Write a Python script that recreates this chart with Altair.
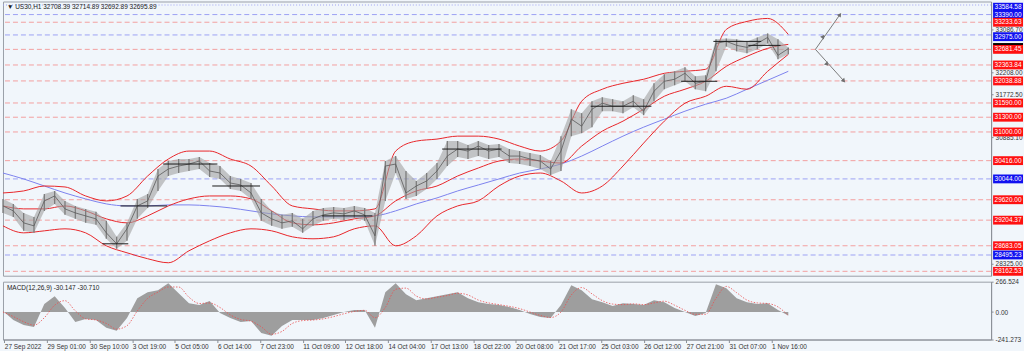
import altair as alt
import pandas as pd

# ---------------- data ----------------
bar_idx = list(range(0, 616, 8))  # H1 bar index, sampled every 8 bars

close = [29494, 29393, 29149, 29088, 29596, 29697, 29434, 29352, 29291, 29231,
         28946, 28723, 29028, 29494, 29596, 30103, 30246, 30306, 30347, 30408,
         30205, 30164, 29961, 29921, 29758, 29352, 29231, 29149, 29190, 29028,
         29231, 29312, 29352, 29332, 29393, 29312, 28885, 30306, 30347, 29758,
         29900, 30002, 30205, 30509, 30652, 30611, 30712, 30611, 30652, 30509,
         30509, 30449, 30408, 30246, 30611, 31261, 31118, 31464, 31585, 31524,
         31524, 31626, 31423, 31829, 32032, 32073, 32194, 31991, 32032, 32803,
         32844, 32763, 32722, 32803, 32925, 32560, 32696]
high = [29637, 29535, 29352, 29271, 29738, 29799, 29596, 29494, 29434, 29373,
        29190, 28865, 29149, 29637, 29738, 30246, 30408, 30449, 30449, 30489,
        30367, 30306, 30103, 30043, 29961, 29637, 29393, 29312, 29352, 29231,
        29393, 29454, 29474, 29454, 29494, 29454, 29352, 30408, 30509, 30205,
        30002, 30164, 30367, 30814, 30814, 30733, 30814, 30733, 30753, 30652,
        30611, 30570, 30530, 30408, 30915, 31464, 31382, 31626, 31707, 31667,
        31626, 31748, 31667, 31991, 32174, 32235, 32316, 32133, 32154, 32885,
        32905, 32885, 32844, 32925, 33006, 32885, 32722]
low = [29352, 29271, 28987, 28946, 29393, 29535, 29312, 29231, 29149, 29109,
       28825, 28622, 28784, 29231, 29454, 29799, 30103, 30164, 30205, 30246,
       30083, 30043, 29840, 29799, 29637, 29190, 29088, 29028, 29068, 28946,
       29088, 29190, 29231, 29210, 29251, 29190, 28682, 29596, 30164, 29637,
       29697, 29840, 30043, 30306, 30489, 30449, 30509, 30449, 30489, 30367,
       30347, 30306, 30246, 30124, 30205, 30915, 30976, 31098, 31423, 31423,
       31382, 31504, 31342, 31626, 31870, 31951, 32032, 31870, 31829, 32235,
       32742, 32641, 32600, 32682, 32803, 32479, 32580]

band_idx = list(range(0, 609, 16))
bb_upper = [29758, 29799, 29900, 29880, 29697, 29596, 29697, 30103, 30449, 30611,
            30611, 30449, 30306, 29900, 29494, 29434, 29393, 29393, 29434, 30611,
            30814, 30855, 30915, 30915, 30855, 30712, 30611, 30814, 31626, 31870,
            31991, 32073, 32194, 32235, 32276, 33088, 33250, 33311, 32986]
bb_middle = [29494, 29434, 29434, 29494, 29393, 29231, 29149, 29291, 29494, 29637,
             29697, 29697, 29637, 29393, 29149, 29109, 29149, 29231, 29291, 29596,
             29799, 29900, 30103, 30266, 30408, 30449, 30408, 30367, 30712, 31017,
             31220, 31464, 31727, 31870, 32032, 32336, 32539, 32702, 32783]
bb_lower = [29088, 28946, 28987, 29028, 28946, 28682, 28540, 28419, 28337, 28581,
            28784, 28946, 29028, 28987, 28865, 28825, 28865, 29028, 29088, 28682,
            28885, 29291, 29494, 29596, 29900, 30103, 30164, 30002, 29758, 29900,
            30306, 30773, 31220, 31585, 31727, 31930, 31870, 32235, 32580]
ma_blue = [30164, 30043, 29900, 29758, 29637, 29535, 29494, 29494, 29515, 29515,
           29494, 29454, 29393, 29332, 29291, 29271, 29271, 29271, 29291, 29393,
           29535, 29657, 29799, 29921, 30043, 30164, 30246, 30347, 30509, 30712,
           30915, 31098, 31261, 31423, 31565, 31687, 31870, 32052, 32235]

macd_hist = [9, -70, -113, -131, 70, 139, 35, -87, -61, -70,
             -139, -165, -52, 122, 174, 191, 252, 165, 78, 61,
             96, -9, -52, -87, -78, -183, -209, -122, -70, -70,
             -70, -52, -26, 0, 17, 17, -139, 174, 252, 157,
             104, 122, 139, 157, 174, 122, 87, 70, 61, 44,
             17, -17, -44, -52, 61, 235, 191, 113, 87, 52,
             78, 70, 61, 104, 87, 35, 0, -35, -9, 244,
             209, 122, 87, 70, 78, 17, -30]
macd_signal = [0, -40, -85, -115, -50, 60, 100, 10, -60, -70,
               -100, -150, -120, 10, 120, 175, 220, 220, 130, 75,
               80, 40, -25, -65, -80, -130, -195, -170, -100, -75,
               -70, -60, -40, -15, 5, 15, -50, 40, 200, 210,
               140, 115, 130, 145, 165, 150, 105, 80, 65, 50,
               30, 0, -30, -48, 0, 150, 215, 160, 100, 70,
               65, 72, 65, 80, 95, 60, 15, -20, -20, 120,
               225, 170, 105, 80, 75, 45, -31]

level_price = [33584.58, 33390.00, 33233.63, 32975.00, 32681.45, 32363.84, 32038.88,
               31590.00, 31300.00, 31000.00, 30416.00, 30044.00, 29620.00, 29204.37,
               28683.05, 28495.23, 28162.53]
level_kind = ["blue", "blue", "red", "blue", "red", "red", "red",
              "red", "red", "red", "red", "blue", "red", "red",
              "red", "blue", "red"]
# where each right-hand price tag sits (nudged like the terminal does to avoid clashes)
label_at = [33540.00, 33390.00, 33233.63, 32940.00, 32681.45, 32363.84, 32038.88,
            31590.00, 31300.00, 31000.00, 30416.00, 30044.00, 29620.00, 29204.37,
            28683.05, 28495.23, 28162.53]

seg_x1 = [77, 91, 124, 162, 247, 340, 455, 525, 550, 577]
seg_x2 = [97, 127, 166, 199, 286, 386, 502, 553, 587, 602]
seg_p = [28723, 29494, 30347, 29900, 29291, 30652, 31524, 32032, 32844, 32763]

proj_leg = ["up", "up", "down", "down"]
proj_bar = [629, 648, 629, 651]
proj_price = [32681.45, 33390.00, 32681.45, 32038.88]
arrow_bar = [648, 651, 635, 638]
arrow_price = [33390.00, 32038.88, 32945, 32377]
arrow_angle = [35, 138, 35, 138]

price_ticks = [33086.70, 32208.00, 31772.50, 30885.10, 28325.00]
time_labels = ["27 Sep 2022", "29 Sep 01:00", "30 Sep 10:00", "3 Oct 19:00", "5 Oct 05:00",
               "6 Oct 14:00", "7 Oct 23:00", "11 Oct 09:00", "12 Oct 18:00", "14 Oct 04:00",
               "17 Oct 13:00", "18 Oct 22:00", "20 Oct 08:00", "21 Oct 17:00", "25 Oct 03:00",
               "26 Oct 12:00", "27 Oct 21:00", "31 Oct 07:00", "1 Nov 16:00"]
time_pos = [1 + 33 * i for i in range(len(time_labels))]
macd_ticks = [266.524, 0.0, -241.273]
macd_tick_labels = ["266.524", "0.00", "-241.273"]

header = "\u25bc US30,H1  32708.39 32714.89 32692.89 32695.89"
macd_title = "MACD(12,26,9) -30.147 -30.710"

# ---------------- frames ----------------
price_df = pd.DataFrame({"bar": bar_idx, "close": close, "high": high, "low": low})
band_df = pd.DataFrame({"bar": band_idx, "upper": bb_upper, "middle": bb_middle,
                        "lower": bb_lower, "ma": ma_blue})
macd_df = pd.DataFrame({"bar": bar_idx, "hist": macd_hist, "signal": macd_signal})

COL = {"red": "#f3a0a0", "blue": "#9da2f4"}
BOX = {"red": "#ff1010", "blue": "#1010f0"}
lvl_df = pd.DataFrame({
    "price": level_price,
    "label_at": label_at,
    "lc": [COL[k] for k in level_kind],
    "bc": [BOX[k] for k in level_kind],
    "label": [f"{p:.2f}" for p in level_price],
    "dash": ["dot" if i == 0 else "dash" for i in range(len(level_price))],
})
cur_df = pd.DataFrame({"label_at": [32720.0], "bc": ["#000000"], "label": [""]})
box_df = pd.concat([cur_df, lvl_df[["label_at", "bc", "label"]]], ignore_index=True)

seg_df = pd.DataFrame({"x1": seg_x1, "x2": seg_x2, "p": seg_p})
proj_df = pd.DataFrame({"leg": proj_leg, "bar": proj_bar, "price": proj_price})
arrow_df = pd.DataFrame({"bar": arrow_bar, "price": arrow_price, "ang": arrow_angle})

# ---------------- scales / axes ----------------
W = 991
FONT = "Liberation Sans"
xs = alt.Scale(domain=[0, 765], nice=False, zero=False)
ys = alt.Scale(domain=[28073.35, 33655.85], nice=False, zero=False)
ms = alt.Scale(domain=[-241.273, 266.524], nice=False, zero=False)

yaxis = alt.Axis(orient="right", values=price_ticks, title=None, grid=False,
                 labelExpr="format(datum.value, '.2f')", labelFontSize=6.5,
                 labelColor="#333333", labelFont=FONT, tickSize=2, labelPadding=2,
                 domainColor="#8a8f96", tickColor="#8a8f96")
maxis = alt.Axis(orient="right", values=macd_ticks, title=None, grid=False,
                 labelExpr="datum.value > 1 ? '%s' : (datum.value < -1 ? '%s' : '%s')"
                 % (macd_tick_labels[0], macd_tick_labels[2], macd_tick_labels[1]),
                 labelFontSize=6.5, labelColor="#333333", labelFont=FONT, tickSize=2,
                 labelPadding=2, domainColor="#8a8f96", tickColor="#8a8f96")
lab_js = "[" + ",".join("'%s'" % s for s in time_labels) + "]"
xaxis = alt.Axis(orient="bottom", values=time_pos, title=None, grid=False,
                 labelExpr=lab_js + "[round((datum.value - 1) / 33)]",
                 labelAlign="left", labelFontSize=6.5, labelColor="#333333",
                 labelFont=FONT, tickSize=3, labelPadding=1, labelOverlap=False,
                 labelBound=False, labelFlush=False, domainColor="#8a8f96",
                 tickColor="#8a8f96")

X = lambda f: alt.X(f, type="quantitative", scale=xs, axis=None)
Y = lambda f: alt.Y(f, type="quantitative", scale=ys, axis=yaxis)

# ---------------- top (price) panel ----------------
levels_dash = alt.Chart(lvl_df).transform_filter("datum.dash == 'dash'").mark_rule(
    strokeDash=[5, 3], strokeWidth=1).encode(
    y=Y("price"), color=alt.Color("lc:N", scale=None))
levels_dot = alt.Chart(lvl_df).transform_filter("datum.dash == 'dot'").mark_rule(
    strokeDash=[1, 2], strokeWidth=1).encode(
    y=Y("price"), color=alt.Color("lc:N", scale=None))

ma_line = alt.Chart(band_df).mark_line(color="#7d83ee", strokeWidth=1,
                                       interpolate="monotone").encode(x=X("bar"), y=Y("ma"))
band_lines = [
    alt.Chart(band_df).mark_line(color="#e8262a", strokeWidth=1,
                                 interpolate="monotone").encode(x=X("bar"), y=Y(f))
    for f in ["upper", "middle", "lower"]
]
price_area = alt.Chart(price_df).mark_area(color="#a2a2a2", opacity=0.6).encode(
    x=X("bar"), y=Y("low"), y2="high")
price_bars = alt.Chart(price_df).mark_rule(color="#7c7c7c", strokeWidth=1.3).encode(
    x=X("bar"), y=Y("low"), y2="high")
price_line = alt.Chart(price_df).mark_line(color="#5a5a5a", strokeWidth=0.8).encode(
    x=X("bar"), y=Y("close"))
segs = alt.Chart(seg_df).mark_rule(color="#1a1a1a", strokeWidth=1).encode(
    x=X("x1"), x2="x2", y=Y("p"))
proj = alt.Chart(proj_df).mark_line(color="#7a7a7a", strokeWidth=1).encode(
    x=X("bar"), y=Y("price"), detail="leg:N")
arrows = alt.Chart(arrow_df).mark_point(shape="triangle-up", filled=True, size=22,
                                        color="#6f6f6f", opacity=1).encode(
    x=X("bar"), y=Y("price"), angle=alt.Angle("ang:Q", scale=None))
head = alt.Chart(pd.DataFrame({"t": [header]})).mark_text(
    align="left", baseline="middle", fontSize=6.5, font=FONT, color="#222222").encode(
    x=alt.value(4), y=alt.value(6), text="t:N")

boxes = alt.Chart(box_df).transform_calculate(
    b1="datum.label_at - 90", b2="datum.label_at + 90").mark_rect().encode(
    x=alt.value(W + 2), x2=alt.value(W + 32),
    y=Y("b1:Q"), y2="b2:Q", color=alt.Color("bc:N", scale=None))
box_text = alt.Chart(box_df).mark_text(
    align="center", baseline="middle", fontSize=6.5, font=FONT, color="white").encode(
    x=alt.value(W + 17), y=Y("label_at"), text="label:N")

top = alt.layer(levels_dash, levels_dot, ma_line, *band_lines, price_area, price_bars,
                price_line, segs, proj, arrows, head, boxes, box_text).properties(
    width=W, height=275)

# ---------------- bottom (MACD) panel ----------------
XB = lambda f: alt.X(f, type="quantitative", scale=xs, axis=xaxis)
YM = lambda f: alt.Y(f, type="quantitative", scale=ms, axis=maxis)
hist = alt.Chart(macd_df).mark_area(color="#999999", opacity=0.95).encode(
    x=XB("bar"), y=YM("hist"))
sig = alt.Chart(macd_df).mark_line(color="#e85050", strokeWidth=0.8,
                                   strokeDash=[1.5, 1.5], interpolate="monotone").encode(
    x=XB("bar"), y=YM("signal"))
mtitle = alt.Chart(pd.DataFrame({"t": [macd_title]})).mark_text(
    align="left", baseline="middle", fontSize=6.5, font=FONT, color="#222222").encode(
    x=alt.value(4), y=alt.value(6), text="t:N")
bottom = alt.layer(hist, sig, mtitle).properties(width=W, height=58)

chart = alt.vconcat(top, bottom, spacing=1).properties(
    padding=0, background="#f1f6fb"
).configure_view(stroke="#9aa0a8", strokeWidth=1, fill="#f1f6fb")

chart.save("out.html", embed_options={"renderer": "svg", "actions": False})
